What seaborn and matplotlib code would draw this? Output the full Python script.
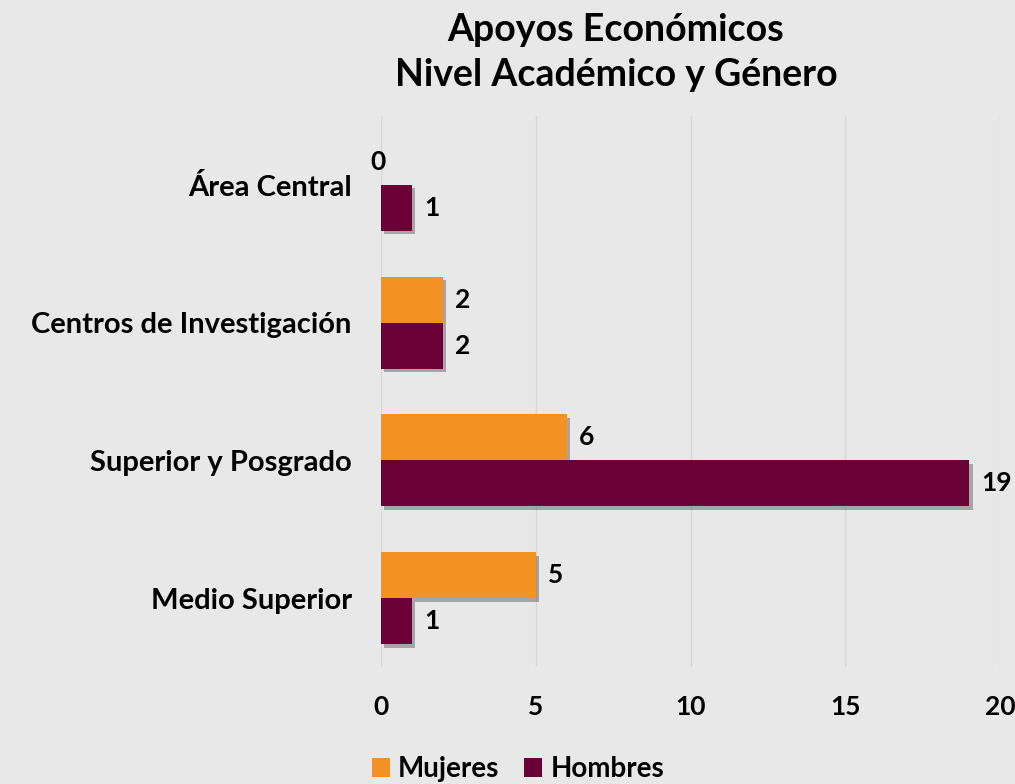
import matplotlib
matplotlib.use("Agg")
import matplotlib.pyplot as plt
import matplotlib.patheffects as pe
import seaborn as sns
import pandas as pd
from matplotlib.patches import Patch

categories = ["Área Central", "Centros de Investigación", "Superior y Posgrado", "Medio Superior"]
mujeres = [0, 2, 6, 5]
hombres = [1, 2, 19, 1]
series_names = ["Mujeres", "Hombres"]
colors = ["#F39224", "#6B0036"]
x_ticks = [0, 5, 10, 15, 20]

df = pd.DataFrame({
    "Categoria": categories * 2,
    "Valor": mujeres + hombres,
    "Serie": [series_names[0]] * len(categories) + [series_names[1]] * len(categories),
})

sns.set_theme(style="white")
plt.rcParams["font.family"] = ["Lato", "DejaVu Sans"]
plt.rcParams["font.weight"] = "bold"
plt.rcParams["text.color"] = "black"
plt.rcParams["xtick.color"] = "black"
plt.rcParams["ytick.color"] = "black"

bg = "#e8e8e8"
fig = plt.figure(figsize=(10.15, 7.84), dpi=100, facecolor=bg)
ax = fig.add_axes([381 / 1015, 1 - 667 / 784, 619 / 1015, 551 / 784])
ax.set_facecolor(bg)

sns.barplot(data=df, y="Categoria", x="Valor", hue="Serie", order=categories,
            hue_order=series_names, palette=colors, orient="h", width=0.667,
            saturation=1, ax=ax, legend=False, zorder=3, linewidth=0, edgecolor="none")

shadow = [pe.SimplePatchShadow(offset=(2.5, -2.5), shadow_rgbFace="#555555", alpha=0.45), pe.Normal()]
for cont in ax.containers:
    for bar in cont:
        bar.set_path_effects(shadow)

for cont in ax.containers:
    labels = []
    for bar in cont:
        w = bar.get_width()
        if w == 0:
            ax.text(-0.1, bar.get_y() + bar.get_height() / 2, "0", ha="center", va="center",
                    fontsize=19, fontweight="bold", color="black", zorder=5)
            labels.append("")
        else:
            labels.append(f"{int(w)}")
    ax.bar_label(cont, labels=labels, padding=9, fontsize=19, fontweight="bold", color="black")

ax.set_xlim(0, 20)
ax.set_xticks(x_ticks)
ax.set_xticklabels([str(t) for t in x_ticks], fontsize=19, fontweight="bold")
ax.tick_params(axis="x", pad=20, length=0)
ax.tick_params(axis="y", pad=21, length=0, labelsize=21)
for lbl in ax.get_yticklabels():
    lbl.set_fontweight("bold")
ax.set_xlabel("")
ax.set_ylabel("")
ax.grid(axis="x", color="#d6d6d6", linewidth=1, zorder=0)
ax.grid(axis="y", visible=False)
for s in ax.spines.values():
    s.set_visible(False)

fig.text(616 / 1015, 1 - 30 / 784, "Apoyos Económicos", ha="center", va="center",
         fontsize=27, fontweight="bold")
fig.text(616 / 1015, 1 - 75 / 784, "Nivel Académico y Género", ha="center", va="center",
         fontsize=27, fontweight="bold")

handles = [Patch(facecolor=c, edgecolor="none") for c in colors]
fig.legend(handles, series_names, loc="center", bbox_to_anchor=(518 / 1015, 1 - 769 / 784),
           ncol=2, frameon=False, handlelength=0.65, handleheight=0.65,
           handletextpad=0.3, columnspacing=0.9, prop={"weight": "bold", "size": 20})

fig.savefig("out.png", dpi=100, facecolor=bg)
